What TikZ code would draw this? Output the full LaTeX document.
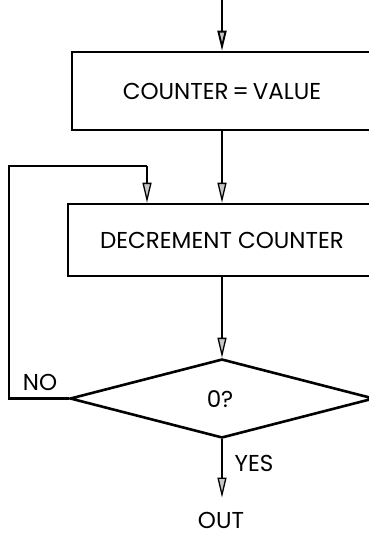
\documentclass[tikz,border=0pt]{standalone}
\usepackage{fontspec}
\setmainfont{Poppins}
\usetikzlibrary{arrows.meta,shapes.geometric}
\tikzset{
  txt/.style={font=\fontsize{23}{27}\selectfont},
  boxnode/.style={draw, line width=2.6pt, rectangle, inner sep=0pt, txt},
  dianode/.style={draw, line width=2.6pt, diamond, inner sep=0pt, txt},
  lbl/.style={inner sep=0pt, txt},
  arr/.style={line width=1.3pt, -{Triangle[length=20pt,width=9pt,fill=gray!45]}},
  plain/.style={line width=2.2pt}
}
\begin{document}
\begin{tikzpicture}[x=1pt,y=-1pt]
\useasboundingbox (0,0) rectangle (369,535);
\clip (0,0) rectangle (369,535);
\node[boxnode, minimum width=300pt, minimum height=78pt] (b1) at (222,91) {COUNTER\,=\,VALUE};
\node[boxnode, minimum width=308pt, minimum height=72pt] (b2) at (222,240) {DECREMENT COUNTER};
\node[dianode, minimum width=304pt, minimum height=79pt] (d) at (222,398.5) {};
\node[lbl] (q) at (220,399) {0?};
\node[lbl] (no) at (40,382) {NO};
\node[lbl] (yes) at (254,463) {YES};
\node[lbl] (out) at (221,520) {OUT};
\coordinate (top) at (222,0);
\coordinate (lc) at (9,166);
\coordinate (lt) at (147,166);
\draw[arr, line width=1.9pt] (top) -- (top |- b1.north);
\draw[arr] (b1.south -| top) -- (top |- b2.north);
\draw[arr] (b2.south -| top) -- (d.north);
\draw[arr, shorten >=14pt] (d.south) -- (d.south |- out.north);
\draw[plain] (d.west) -| (lc) -- (lt);
\draw[arr] (lt) -- (lt |- b2.north);
\end{tikzpicture}
\end{document}
